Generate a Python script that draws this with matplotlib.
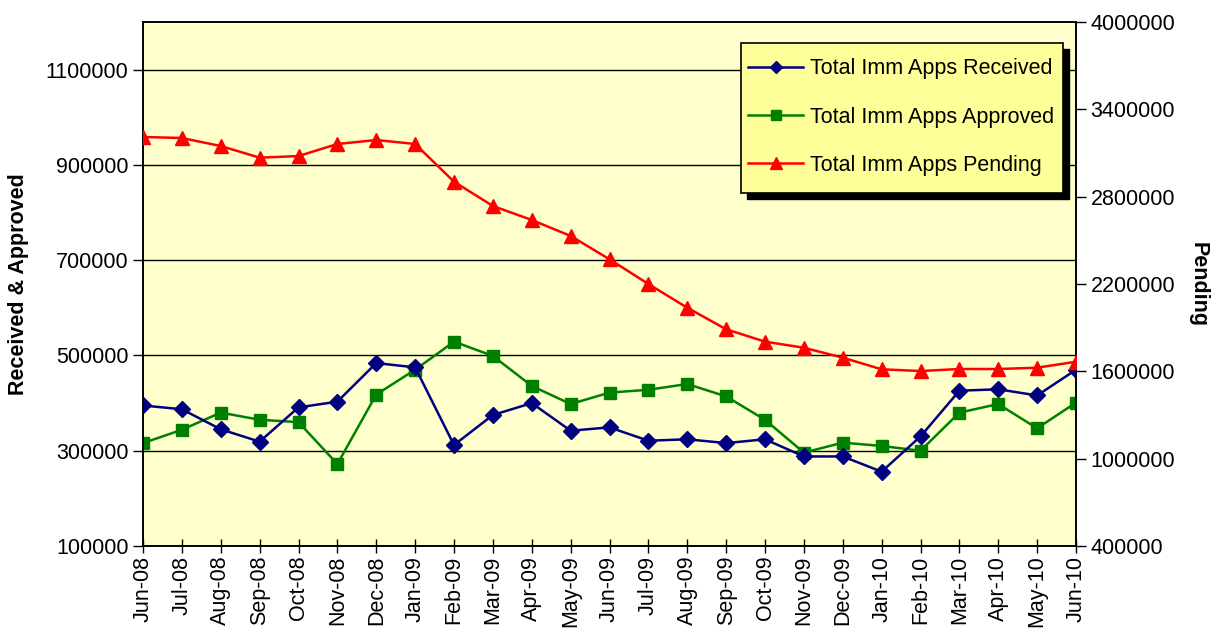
import matplotlib
matplotlib.use("Agg")
import matplotlib.pyplot as plt
from matplotlib.patches import Rectangle

months = ["Jun-08", "Jul-08", "Aug-08", "Sep-08", "Oct-08", "Nov-08", "Dec-08",
          "Jan-09", "Feb-09", "Mar-09", "Apr-09", "May-09", "Jun-09", "Jul-09",
          "Aug-09", "Sep-09", "Oct-09", "Nov-09", "Dec-09", "Jan-10", "Feb-10",
          "Mar-10", "Apr-10", "May-10", "Jun-10"]

received = [395000, 387000, 345000, 319000, 391000, 403000, 484000, 475000,
            312000, 375000, 400000, 342000, 349000, 321000, 324000, 316000,
            324000, 288000, 288000, 256000, 330000, 426000, 429000, 416000, 470000]

approved = [316000, 344000, 380000, 365000, 360000, 272000, 418000, 470000,
            529000, 499000, 436000, 398000, 422000, 428000, 440000, 414000,
            365000, 296000, 317000, 310000, 300000, 380000, 398000, 347000, 401000]

pending = [3210000, 3203000, 3148000, 3068000, 3079000, 3162000, 3189000, 3162000,
           2903000, 2736000, 2640000, 2530000, 2370000, 2200000, 2037000, 1889000,
           1804000, 1762000, 1694000, 1614000, 1602000, 1616000, 1616000, 1625000, 1666000]

left_ticks = [100000, 300000, 500000, 700000, 900000, 1100000]
right_ticks = [400000, 1000000, 1600000, 2200000, 2800000, 3400000, 4000000]

plt.rcParams['font.family'] = ['Liberation Sans', 'DejaVu Sans']

fig = plt.figure(figsize=(12.14, 6.33), dpi=100, facecolor='white')
ax = fig.add_axes([143/1214, 1-546/633, (1076-143)/1214, (546-22)/633])
ax.set_facecolor('#FFFFCC')
ax2 = ax.twinx()

x = list(range(len(months)))

l1, = ax.plot(x, received, color='#000080', lw=1.8, marker='D', ms=8,
              mec='#000080', mfc='#000080', label='Total Imm Apps Received', zorder=4)
l2, = ax.plot(x, approved, color='#008000', lw=1.8, marker='s', ms=8.5,
              mec='#008000', mfc='#008000', label='Total Imm Apps Approved', zorder=3)
l3, = ax2.plot(x, pending, color='#FF0000', lw=1.8, marker='^', ms=10,
               mec='#FF0000', mfc='#FF0000', label='Total Imm Apps Pending', zorder=3)

ax.set_xlim(0, len(months)-1)
ax.set_ylim(100000, 1200000)
ax2.set_ylim(400000, 4000000)
ax.set_yticks(left_ticks)
ax.set_yticklabels([str(v) for v in left_ticks])
ax2.set_yticks(right_ticks)
ax2.set_yticklabels([str(v) for v in right_ticks])
ax.set_xticks(x)
ax.set_xticklabels(months, rotation=90, fontsize=15.5)

ax.yaxis.grid(True, color='black', lw=1.0)
ax.set_axisbelow(True)

for a in (ax, ax2):
    for s in a.spines.values():
        s.set_color('black')
        s.set_linewidth(1.2)

ax.tick_params(axis='y', labelsize=15.5, length=7, direction='out', width=1)
ax2.tick_params(axis='y', labelsize=15.5, length=7, direction='out', width=1)
ax.tick_params(axis='x', length=10, direction='inout', width=1, pad=2)

ax.set_ylabel('Received & Approved', fontsize=15.5, fontweight='bold', labelpad=12)
ax2.set_ylabel('Pending', fontsize=15.5, fontweight='bold', rotation=270, labelpad=24)

# legend box with shadow
lx0, ly0, lx1, ly1 = 741, 43, 1063, 193
W, H = 1214, 633
shadow = Rectangle(((lx0+6)/W, 1-(ly1+6)/H), (lx1-lx0)/W, (ly1-ly0)/H,
                   transform=fig.transFigure, facecolor='black', edgecolor='black',
                   zorder=8, clip_on=False)
ax2.add_artist(shadow)
frame = Rectangle((lx0/W, 1-ly1/H), (lx1-lx0)/W, (ly1-ly0)/H,
                  transform=fig.transFigure, facecolor='#FFFF99', edgecolor='black',
                  lw=1.2, zorder=9, clip_on=False)
ax2.add_artist(frame)
leg = ax2.legend(handles=[l1, l2, l3], loc='center left',
                 bbox_to_anchor=(748/W, 1-117/H),
                 bbox_transform=fig.transFigure,
                 fontsize=15.5, frameon=False,
                 borderpad=0, labelspacing=1.26, handlelength=2.56, handletextpad=0.33,
                 markerscale=0.8, borderaxespad=0)
leg.set_zorder(10)

fig.savefig('out.png', dpi=100, facecolor='white')
